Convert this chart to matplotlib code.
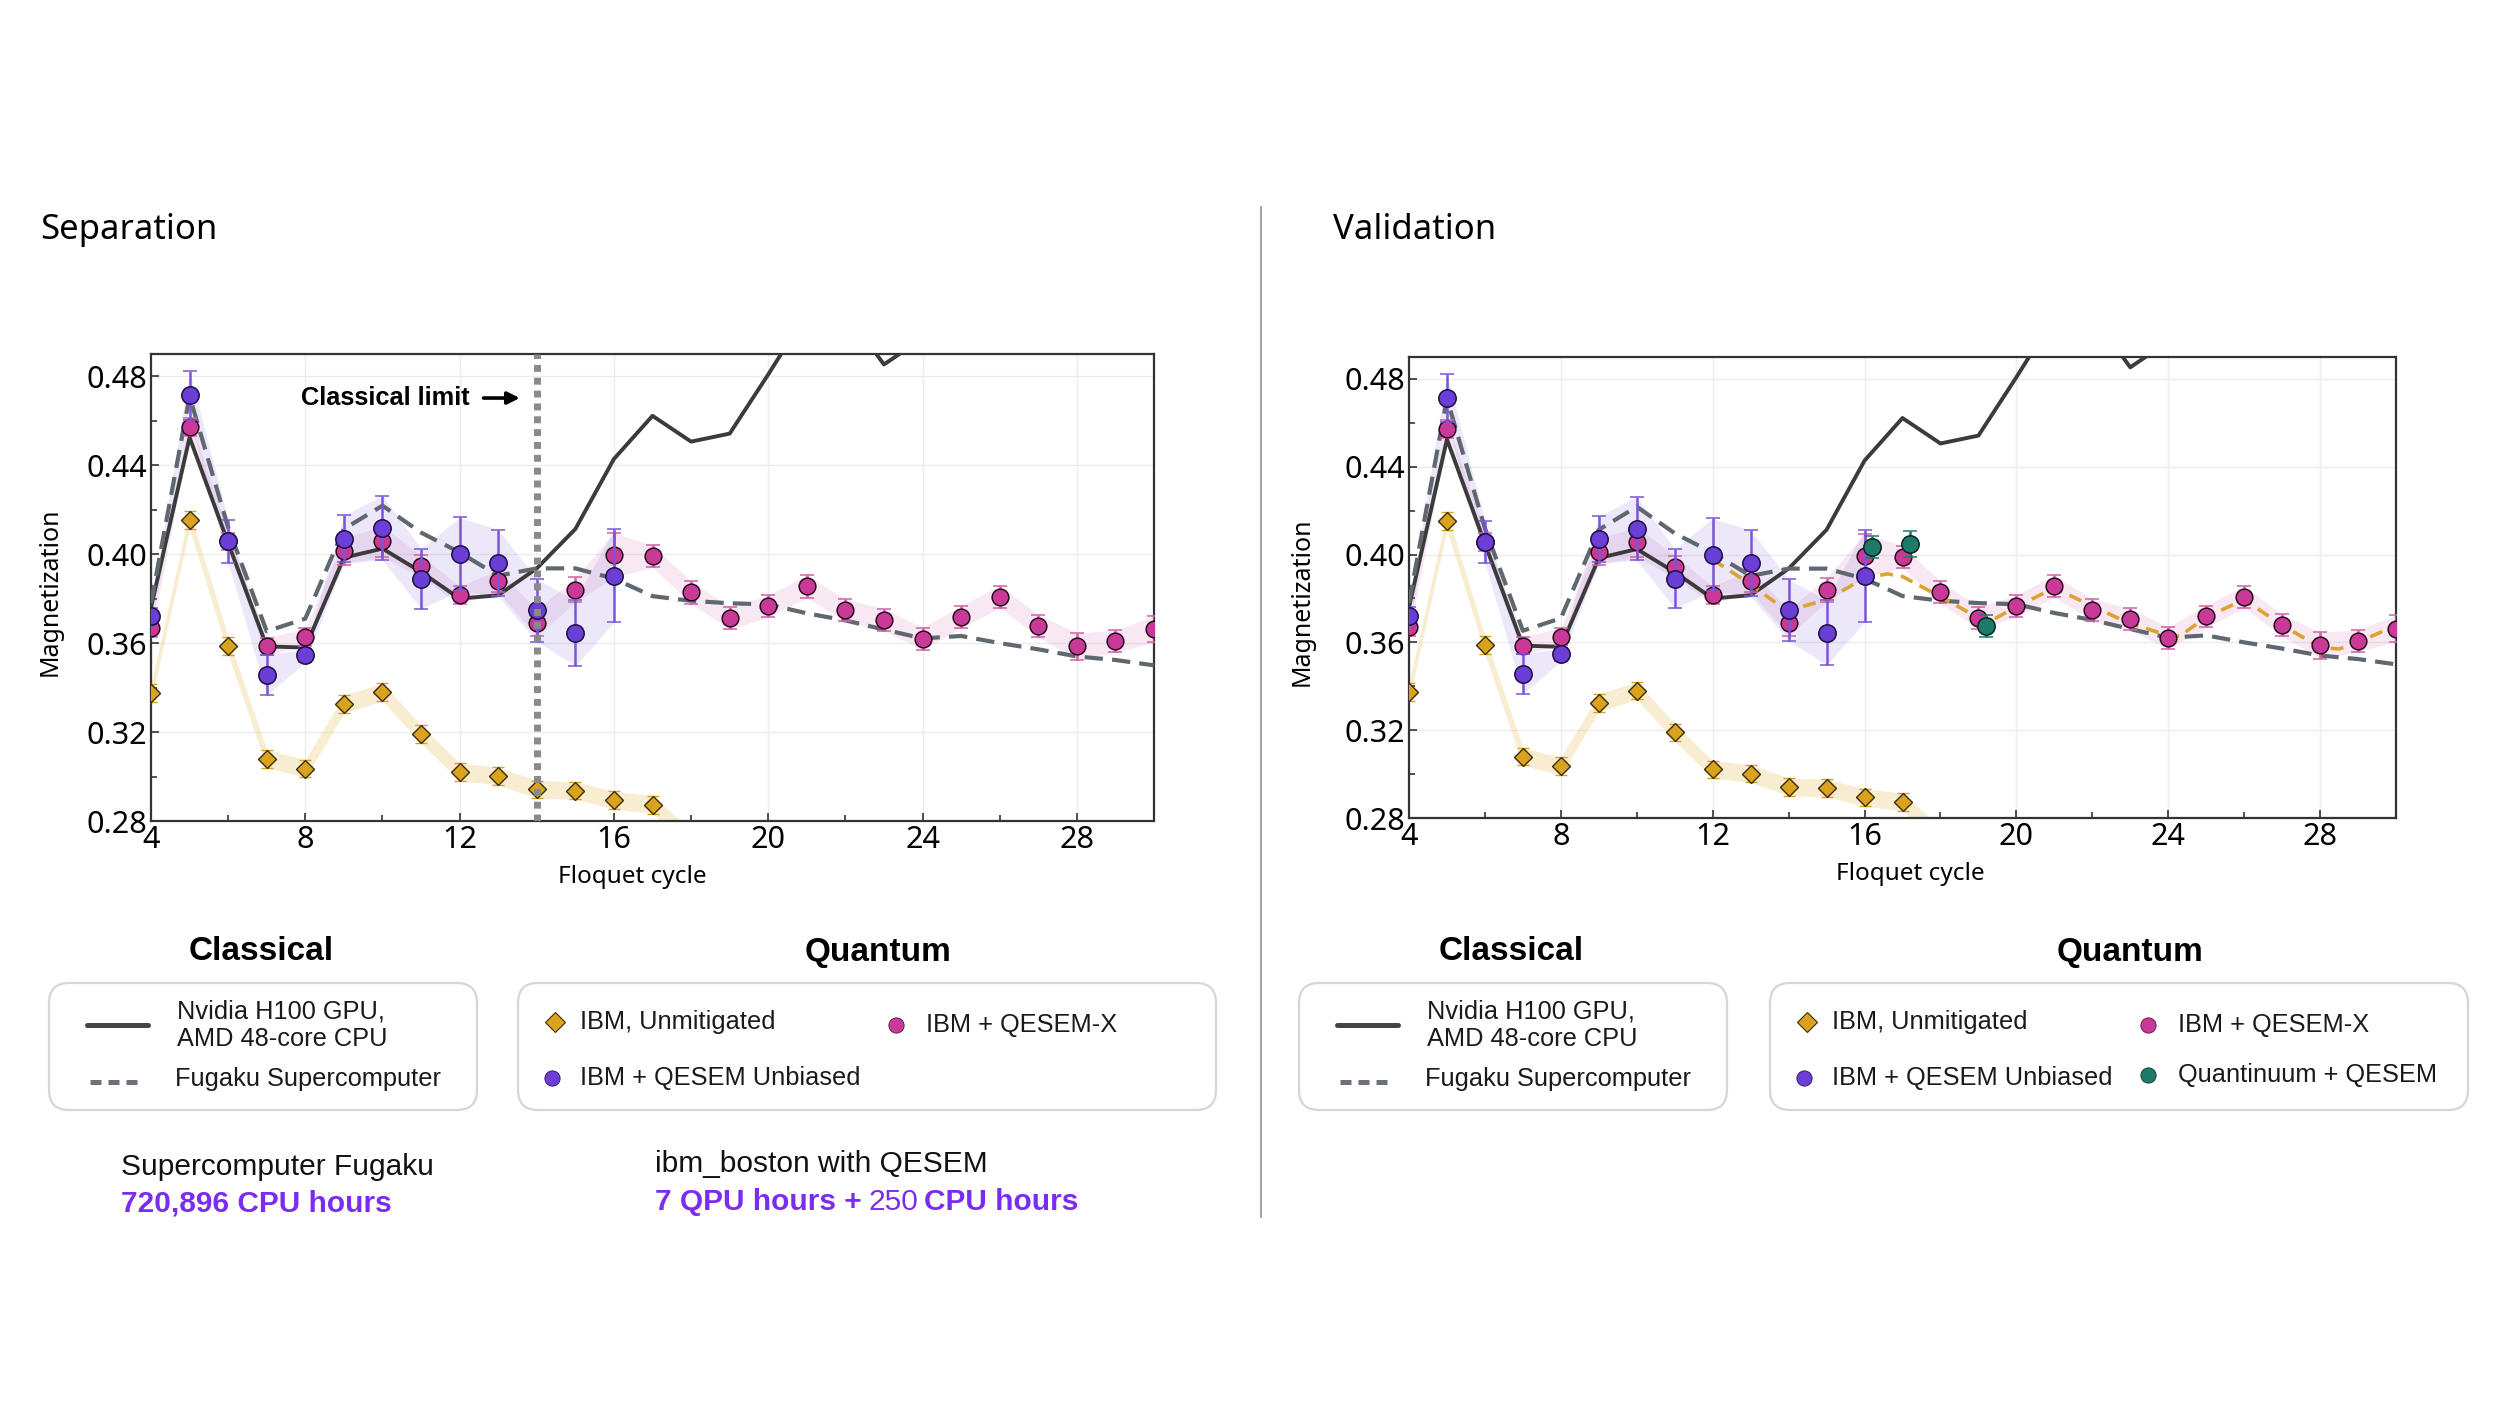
import matplotlib
matplotlib.use("Agg")
import matplotlib.pyplot as plt
import numpy as np
from matplotlib.lines import Line2D
from matplotlib.patches import FancyBboxPatch
from matplotlib.transforms import IdentityTransform
from matplotlib.ticker import MultipleLocator, FormatStrFormatter

plt.rcParams['font.family'] = ['Noto Sans', 'DejaVu Sans']

# ---- data ----
cycles = np.arange(4, 31)
nvidia = [0.376, 0.4525, 0.405, 0.3585, 0.358, 0.3984, 0.4025, 0.392, 0.380, 0.3815,
          0.3936, 0.4113, 0.4428, 0.4622, 0.4506, 0.4542, 0.4808, 0.5084, 0.509, 0.4853,
          0.497, 0.505, 0.51, 0.515, 0.52, 0.52, 0.525]
fugaku = [0.378, 0.471, 0.412, 0.3653, 0.371, 0.4113, 0.4218, 0.4097, 0.4008, 0.3903,
          0.3936, 0.3936, 0.389, 0.3811, 0.379, 0.3779, 0.3774, 0.3734, 0.3702, 0.3661,
          0.3621, 0.3632, 0.360, 0.3572, 0.354, 0.3524, 0.350]

qesemx = [0.3668, 0.4571, 0.4057, 0.3585, 0.3626, 0.4012, 0.4057, 0.3945, 0.3815, 0.388,
          0.369, 0.384, 0.3995, 0.399, 0.3828, 0.3712, 0.3766, 0.3855, 0.3748, 0.3705,
          0.362, 0.3718, 0.3808, 0.3678, 0.3586, 0.3608, 0.3663]
qesemx_err = [0.004, 0.004, 0.004, 0.004, 0.004, 0.006, 0.007, 0.005, 0.004, 0.005,
              0.006, 0.0055, 0.010, 0.005, 0.005, 0.005, 0.005, 0.005, 0.005, 0.005,
              0.005, 0.005, 0.005, 0.005, 0.006, 0.005, 0.006]

unbiased_cycles = np.arange(4, 17)
unbiased = [0.372, 0.4714, 0.4057, 0.3456, 0.3545, 0.407, 0.4118, 0.389, 0.400, 0.396,
            0.3747, 0.3645, 0.3903]
unbiased_err = [0.004, 0.011, 0.0095, 0.009, 0.003, 0.0105, 0.0145, 0.0135, 0.0165, 0.015,
                0.014, 0.0147, 0.021]

unmit_cycles = np.arange(4, 19)
unmit = [0.3375, 0.4154, 0.3588, 0.3080, 0.3036, 0.3325, 0.338, 0.319, 0.3021, 0.3002,
         0.2942, 0.2937, 0.2894, 0.2873, 0.272]
unmit_err = [0.004] * 15

quantinuum_cycles = [16.2, 17.2, 19.2]
quantinuum = [0.4035, 0.4047, 0.3675]
quantinuum_err = [0.005, 0.006, 0.005]

fit_cycles = [12, 13, 13.7, 14.3, 15, 16, 16.6, 17, 18, 19, 19.4, 20, 21, 22, 23, 24,
              24.3, 25, 26, 27, 28, 28.5, 29, 30]
fit_values = [0.3977, 0.3865, 0.3775, 0.3760, 0.3795, 0.3892, 0.3912, 0.3900, 0.3808,
              0.3712, 0.3705, 0.3762, 0.3848, 0.3765, 0.3685, 0.3632, 0.3628, 0.3715,
              0.3795, 0.3678, 0.3578, 0.3570, 0.3600, 0.3678]

classical_limit = 14
x_ticks = [4, 8, 12, 16, 20, 24, 28]
y_ticks = [0.28, 0.32, 0.36, 0.40, 0.44, 0.48]

# colours
PURPLE = '#6b3fd6'
MAGENTA = '#c93a98'
GOLD = '#d9a21f'
GREEN = '#1d7a68'
DARK = '#3b3b3b'
SLATE = '#5f686f'
ORANGE = '#dca233'
VIOLET_TXT = '#7a2cf0'

W, H = 2500, 1406
fig = plt.figure(figsize=(W / 100, H / 100), dpi=100)

LEG_FONT = ['Liberation Sans', 'DejaVu Sans']


def draw_panel(ax, validation):
    # shaded bands
    ax.fill_between(unmit_cycles, np.array(unmit) - np.array(unmit_err),
                    np.array(unmit) + np.array(unmit_err), color='#eccb7c', alpha=0.35,
                    lw=0, zorder=1)
    ax.fill_between(cycles, np.array(qesemx) - np.array(qesemx_err),
                    np.array(qesemx) + np.array(qesemx_err), color='#d77ab8', alpha=0.17,
                    lw=0, zorder=1)
    ax.fill_between(unbiased_cycles, np.array(unbiased) - np.array(unbiased_err),
                    np.array(unbiased) + np.array(unbiased_err), color='#8d74e0', alpha=0.16,
                    lw=0, zorder=1)

    # classical simulations
    ax.plot(cycles, nvidia, color=DARK, lw=2.8, zorder=3)
    ax.plot(cycles, fugaku, color=SLATE, lw=3, dashes=(4.4, 2.2), zorder=3)

    if validation:
        ax.plot(fit_cycles, fit_values, color=ORANGE, lw=2.6, dashes=(3.6, 2.2), zorder=4)

    # quantum data
    ax.errorbar(unmit_cycles, unmit, yerr=unmit_err, fmt='D', ms=9.5, mfc=GOLD, mec='#3a2c05',
                mew=1, ecolor=GOLD, elinewidth=1.6, capsize=4.5, capthick=1.6, zorder=5)
    ax.errorbar(cycles, qesemx, yerr=qesemx_err, fmt='o', ms=12, mfc=MAGENTA, mec='#2a0a1e',
                mew=1.1, ecolor='#d25fa8', elinewidth=1.8, capsize=5, capthick=1.8, zorder=5)
    ax.errorbar(unbiased_cycles, unbiased, yerr=unbiased_err, fmt='o', ms=12.5, mfc=PURPLE,
                mec='#1e0d45', mew=1.1, ecolor='#7a55d8', elinewidth=1.8, capsize=5,
                capthick=1.8, zorder=6)
    if validation:
        ax.errorbar(quantinuum_cycles, quantinuum, yerr=quantinuum_err, fmt='o', ms=12.5,
                    mfc=GREEN, mec='#06261f', mew=1.1, ecolor=GREEN, elinewidth=1.8,
                    capsize=5, capthick=1.8, zorder=6)
    else:
        ax.axvline(classical_limit, color='#8a8a8a', lw=5, dashes=(1, 0.85), zorder=7)
        ax.text(12.27, 0.4702, 'Classical limit', ha='right', va='center', fontsize=18.3,
                fontweight='bold', family=LEG_FONT, zorder=8)
        ax.annotate('', xy=(13.56, 0.4702), xytext=(12.62, 0.4702),
                    arrowprops=dict(arrowstyle='-|>', color='black', lw=2.6,
                                    mutation_scale=18, shrinkA=0, shrinkB=0))

    ax.set_xlim(4, 30)
    ax.set_ylim(0.28, 0.49)
    ax.set_xticks(x_ticks)
    ax.set_yticks(y_ticks)
    ax.yaxis.set_major_formatter(FormatStrFormatter('%.2f'))
    ax.xaxis.set_minor_locator(MultipleLocator(2))
    ax.yaxis.set_minor_locator(MultipleLocator(0.02))
    ax.tick_params(which='both', direction='in', labelsize=22, pad=3, width=1.2,
                   color='#333333')
    ax.tick_params(which='major', length=6)
    ax.tick_params(which='minor', length=4)
    ax.grid(True, which='major', color='#ececec', lw=1)
    ax.set_axisbelow(True)
    for s in ax.spines.values():
        s.set_linewidth(1.6)
        s.set_color('#333333')
    ax.set_ylabel('Magnetization', fontsize=18)
    ax.set_xlabel('Floquet cycle', fontsize=17.5)


ax1 = fig.add_axes([151 / W, 1 - 821 / H, (1154 - 151) / W, (821 - 354) / H])
ax2 = fig.add_axes([1409 / W, 1 - 818 / H, (2396 - 1409) / W, (818 - 357) / H])
draw_panel(ax1, False)
draw_panel(ax2, True)
ax1.yaxis.set_label_coords(-0.088, 0.49)
ax1.xaxis.set_label_coords(0.48, -0.094)
ax2.yaxis.set_label_coords(-0.096, 0.47)
ax2.xaxis.set_label_coords(0.508, -0.095)


# ---- page furniture in pixel coordinates ----
def fx(x):
    return x / W


def fy(y):
    return 1 - y / H


fig.text(fx(40), fy(230), 'Separation', fontsize=25, va='center', ha='left')
fig.text(fx(1333), fy(230), 'Validation', fontsize=25, va='center', ha='left')
fig.add_artist(Line2D([1261, 1261], [H - 207, H - 1217], transform=IdentityTransform(),
                      color='#9a9a9a', lw=1.3))


def rounded_box(x0, y0, x1, y1):
    fig.add_artist(FancyBboxPatch((x0, H - y1), x1 - x0, y1 - y0,
                                  boxstyle='round,pad=0,rounding_size=20',
                                  transform=IdentityTransform(), fc='white',
                                  ec='#d6d6d6', lw=1.6))


def handle_line(x0, x1, y, **kw):
    fig.add_artist(Line2D([x0, x1], [H - y, H - y], transform=IdentityTransform(), **kw))


def handle_marker(x, y, **kw):
    fig.add_artist(Line2D([x], [H - y], transform=IdentityTransform(), ls='none', **kw))


def leg_text(x, y, s):
    fig.text(fx(x), fy(y), s, fontsize=18.3, va='center', ha='left', family=LEG_FONT,
             color='#1a1a1a', linespacing=1.2)


for dx, validation in [(0, False), (1250, True)]:
    # classical legend
    fig.text(fx(261 + dx), fy(952), 'Classical', fontsize=24, fontweight='bold',
             ha='center', va='center', family=LEG_FONT)
    rounded_box(49 + dx, 983, 477 + dx, 1110)
    handle_line(87 + dx, 148 + dx, 1025, color='#454545', lw=3.6, solid_capstyle='round')
    leg_text(177 + dx, 1025, 'Nvidia H100 GPU,\nAMD 48-core CPU')
    handle_line(90 + dx, 143 + dx, 1082, color='#6b7178', lw=3.6, dashes=(2.2, 1.4))
    leg_text(175 + dx, 1079, 'Fugaku Supercomputer')

    # quantum legend
    qx = 0 if not validation else 1252
    fig.text(fx(878 + qx), fy(952), 'Quantum', fontsize=24, fontweight='bold',
             ha='center', va='center', family=LEG_FONT)
    rounded_box(518 + qx, 983, 1216 + qx, 1110)
    handle_marker(555 + qx, 1022, marker='D', ms=10, mfc=GOLD, mec='#3a2c05', mew=0.8)
    leg_text(580 + qx, 1022, 'IBM, Unmitigated')
    handle_marker(896 + qx, 1025, marker='o', ms=11, mfc=MAGENTA, mec='#5a1540', mew=0.6)
    leg_text(926 + qx, 1025, 'IBM + QESEM-X')
    handle_marker(552 + qx, 1078, marker='o', ms=11, mfc=PURPLE, mec='#2b1563', mew=0.6)
    leg_text(580 + qx, 1078, 'IBM + QESEM Unbiased')
    if validation:
        handle_marker(896 + qx, 1075, marker='o', ms=11, mfc=GREEN, mec='#0b3a30', mew=0.6)
        leg_text(926 + qx, 1075, 'Quantinuum + QESEM')

# resource cost text
fig.text(fx(121), fy(1167), 'Supercomputer Fugaku', fontsize=21.5, va='center',
         family=LEG_FONT, color='#111111')
fig.text(fx(121), fy(1204), '720,896 CPU hours', fontsize=21.5, va='center',
         family=LEG_FONT, fontweight='bold', color=VIOLET_TXT)
fig.text(fx(655), fy(1164), 'ibm_boston with QESEM', fontsize=21.5, va='center',
         family=LEG_FONT, color='#111111')
t1 = fig.text(fx(655), fy(1202), '7 QPU hours +', fontsize=21.5, va='center',
              family=LEG_FONT, fontweight='bold', color=VIOLET_TXT)
t2 = fig.text(0, 0, '250', fontsize=21.5, va='center', family=LEG_FONT, color=VIOLET_TXT)
t3 = fig.text(0, 0, 'CPU hours', fontsize=21.5, va='center', family=LEG_FONT,
              fontweight='bold', color=VIOLET_TXT)
fig.canvas.draw()
r = fig.canvas.get_renderer()
gap = 6.5
b1 = t1.get_window_extent(r)
t2.set_position(((b1.x1 + gap) / W, fy(1202)))
b2 = t2.get_window_extent(r)
t3.set_position(((b2.x1 + gap) / W, fy(1202)))

fig.savefig('out.png', dpi=100)
